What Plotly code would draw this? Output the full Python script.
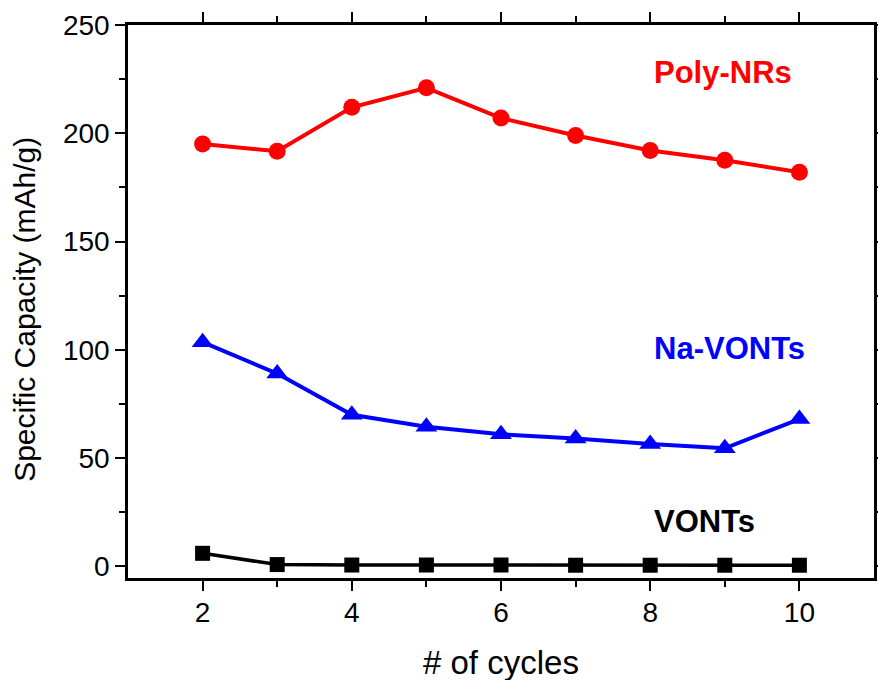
import plotly.graph_objects as go

cycles = [2, 3, 4, 5, 6, 7, 8, 9, 10]
poly_nrs = [195, 191.7, 212, 221, 207, 199, 192, 187.5, 182]
na_vonts = [103.5, 89, 70, 64.5, 61, 59, 56.5, 54.5, 68]
vonts = [6, 0.8, 0.6, 0.6, 0.6, 0.5, 0.5, 0.5, 0.5]

series_names = ["Poly-NRs", "Na-VONTs", "VONTs"]
series_colors = ["#FF0000", "#0000FF", "#000000"]
label_pos = [(8.02, 228), (8.02, 100.5), (8.02, 20.5)]

x_ticks = [2, 4, 6, 8, 10]
y_ticks = [0, 50, 100, 150, 200, 250]

FONT = "Liberation Sans, Arial, sans-serif"

fig = go.Figure()
fig.add_trace(go.Scatter(x=cycles, y=poly_nrs, mode="lines+markers",
                         line=dict(color=series_colors[0], width=4),
                         marker=dict(symbol="circle", size=17, color=series_colors[0])))
fig.add_trace(go.Scatter(x=cycles, y=na_vonts, mode="lines+markers",
                         line=dict(color=series_colors[1], width=4),
                         marker=dict(symbol="triangle-up", size=19, color=series_colors[1])))
fig.add_trace(go.Scatter(x=cycles, y=vonts, mode="lines+markers",
                         line=dict(color=series_colors[2], width=3.5),
                         marker=dict(symbol="square", size=15, color=series_colors[2])))

for name, col, (lx, ly) in zip(series_names, series_colors, label_pos):
    fig.add_annotation(x=lx, y=ly, xref="x", yref="y", text="<b>%s</b>" % name,
                       showarrow=False, xanchor="left", yanchor="middle",
                       font=dict(family=FONT, size=31, color=col))

# axis titles
fig.add_annotation(x=0.5, y=-0.152, xref="paper", yref="paper", text="# of cycles",
                   showarrow=False, xanchor="center", yanchor="middle",
                   font=dict(family=FONT, size=33, color="black"))
fig.add_annotation(x=-0.138, y=0.485, xref="paper", yref="paper", text="Specific Capacity (mAh/g)",
                   showarrow=False, xanchor="center", yanchor="middle", textangle=-90,
                   font=dict(family=FONT, size=30, color="black"))

axis_common = dict(showline=True, linecolor="black", linewidth=2.5, mirror="ticks",
                   ticks="outside", ticklen=10, tickwidth=2, tickcolor="black",
                   showgrid=False, zeroline=False, automargin=False,
                   tickfont=dict(family=FONT, size=28, color="black"))

fig.update_xaxes(range=[1, 11], tickmode="array", tickvals=x_ticks,
                 ticktext=[str(v) for v in x_ticks],
                 minor=dict(tickvals=[3, 5, 7, 9], ticklen=6, tickwidth=2, tickcolor="black", ticks="outside"),
                 ticklabelstandoff=-2,
                 **axis_common)
fig.update_yaxes(range=[-5.4, 250], tickmode="array", tickvals=y_ticks,
                 ticktext=[str(v) for v in y_ticks],
                 minor=dict(tickvals=[25, 75, 125, 175, 225], ticklen=6, tickwidth=2, tickcolor="black", ticks="outside"),
                 **axis_common)

fig.update_layout(width=878, height=680, showlegend=False,
                  plot_bgcolor="white", paper_bgcolor="white",
                  margin=dict(l=128, r=4, t=25, b=102))

fig.write_html("out.html")
